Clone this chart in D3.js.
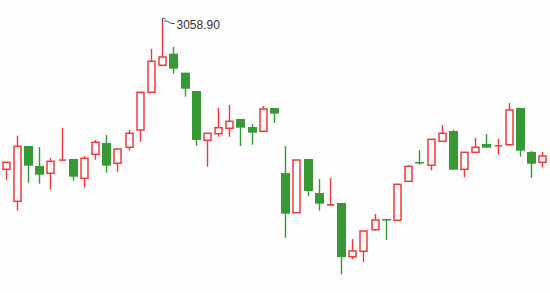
<!DOCTYPE html>
<html>
<head>
<meta charset="utf-8">
<script src="https://cdn.jsdelivr.net/npm/d3@7"></script>
<style>
  html, body { margin: 0; padding: 0; background: #fdfdfd; }
</style>
</head>
<body>
<div class="chart"></div>
<script>
// daily index candles
var openVals  = [2909.6, 2877.6, 2932.9, 2912.9, 2905.6, 2918.2, 2919.9, 2900.6, 2924.6, 2935.9,
                 2915.6, 2931.6, 2948.9, 2986.6, 3013.6, 3025.2, 3006.2, 2987.9, 2938.6, 2945.2,
                 2950.6, 2959.9, 2951.9, 2947.6, 2970.9, 2905.9, 2866.2, 2919.9, 2885.9, 2873.2,
                 2875.9, 2822.2, 2827.6, 2849.2, 2859.9, 2858.6, 2897.6, 2916.9, 2913.6, 2937.6,
                 2947.9, 2909.6, 2926.6, 2934.9, 2933.3, 2934.2, 2970.9, 2926.9, 2916.6];
var highVals  = [2916.6, 2943.2, 2932.9, 2931.9, 2920.9, 2950.9, 2919.9, 2922.9, 2938.9, 2943.9,
                 2930.9, 2948.9, 2986.6, 3029.9, 3058.9, 3031.9, 3006.2, 2987.9, 2945.6, 2970.9,
                 2973.9, 2959.9, 2954.9, 2972.9, 2970.9, 2932.9, 2918.9, 2919.9, 2899.9, 2900.9,
                 2875.9, 2839.9, 2847.9, 2864.9, 2859.9, 2894.6, 2913.6, 2928.9, 2939.6, 2953.9,
                 2949.2, 2926.6, 2941.2, 2944.9, 2940.2, 2975.9, 2970.9, 2927.9, 2926.9];
var lowVals   = [2898.9, 2868.2, 2896.2, 2895.2, 2889.2, 2918.2, 2898.2, 2891.2, 2919.2, 2906.2,
                 2907.2, 2928.2, 2937.2, 2986.6, 3013.6, 3005.2, 2982.2, 2933.2, 2912.2, 2942.2,
                 2942.2, 2932.9, 2934.2, 2947.6, 2955.9, 2841.2, 2866.2, 2882.9, 2868.2, 2873.2,
                 2804.6, 2819.9, 2816.9, 2848.2, 2838.9, 2858.6, 2897.6, 2914.2, 2908.6, 2937.6,
                 2909.2, 2901.6, 2926.6, 2931.2, 2924.2, 2933.2, 2922.2, 2901.2, 2911.6];
var closeVals = [2916.6, 2932.6, 2913.2, 2904.2, 2917.6, 2919.6, 2902.2, 2920.6, 2936.6, 2913.2,
                 2929.9, 2945.6, 2986.6, 3017.6, 3021.9, 3010.2, 2990.2, 2938.9, 2945.6, 2951.2,
                 2957.6, 2951.2, 2946.2, 2969.9, 2965.2, 2865.2, 2918.9, 2887.9, 2875.2, 2874.9,
                 2821.9, 2827.9, 2847.9, 2858.9, 2859.3, 2894.6, 2912.6, 2916.3, 2939.6, 2945.6,
                 2909.2, 2926.6, 2931.6, 2931.2, 2933.9, 2968.9, 2928.2, 2915.2, 2922.9];
var maxLabel = '3058.90';

(function() {
  var opts = {
    width: 550,
    height: 293,
    up: '#f03a3a',
    down: '#369936',
    bg: '#fdfdfd'
  };

  var candles = openVals.map(function(o, i) {
    return { i: i, open: o, high: highVals[i], low: lowVals[i], close: closeVals[i] };
  });

  var svg = d3.select('.chart')
              .append('svg')
              .attr('width', opts.width)
              .attr('height', opts.height)
              .style('display', 'block');

  var x = d3.scaleBand()
            .domain(candles.map(function(d) { return d.i; }))
            .range([0, 548]);

  var y = d3.scaleLinear()
            .domain([d3.min(lowVals), d3.max(highVals)])
            .range([274.3, 20]);

  var cx = function(d) { return Math.round(x(d.i) + x.bandwidth() / 2) + 0.5; };
  var isUp = function(d) { return d.close >= d.open; };

  var g = svg.selectAll('.candle').data(candles)
             .enter().append('g')
             .attr('class', 'candle');

  // wicks
  g.append('line')
    .attr('x1', cx)
    .attr('x2', cx)
    .attr('y1', function(d) { return y(d.high); })
    .attr('y2', function(d) { return y(d.low); })
    .style('stroke', function(d) { return isUp(d) ? opts.up : opts.down; })
    .style('stroke-width', 1.4);

  // bodies
  g.append('rect')
    .attr('x', function(d) { return isUp(d) ? cx(d) - 3.5 : cx(d) - 4.5; })
    .attr('width', function(d) { return isUp(d) ? 7 : 9; })
    .attr('y', function(d) { return y(Math.max(d.open, d.close)); })
    .attr('height', function(d) {
      return Math.max(1.5, Math.abs(y(d.open) - y(d.close)));
    })
    .style('fill', function(d) {
      var h = Math.abs(y(d.open) - y(d.close));
      if (!isUp(d)) return opts.down;
      return h < 2 ? opts.up : opts.bg;
    })
    .style('stroke', function(d) { return isUp(d) ? opts.up : 'none'; })
    .style('stroke-width', function(d) {
      var h = Math.abs(y(d.open) - y(d.close));
      return isUp(d) && h >= 2 ? 1.5 : 0;
    });

  // marker on the highest high
  var top = candles[d3.maxIndex(highVals)];
  var mx = cx(top), my = y(top.high);

  svg.append('path')
    .attr('d', 'M' + mx + ',' + (my + 2) + ' L' + mx + ',' + (my - 1.5) +
               ' Q' + (mx + 1.5) + ',' + (my - 2.5) + ' ' + (mx + 3) + ',' + (my - 0.5) +
               ' M' + (mx + 2) + ',' + (my + 1) +
               ' Q' + (mx + 5) + ',' + (my + 0.5) + ' ' + (mx + 7) + ',' + (my + 2.5) +
               ' Q' + (mx + 9) + ',' + (my + 4) + ' ' + (mx + 12) + ',' + (my + 3.5))
    .style('fill', 'none')
    .style('stroke', '#444')
    .style('stroke-width', 1);

  svg.append('text')
    .attr('x', mx + 14)
    .attr('y', my + 9)
    .text(maxLabel)
    .style('font-family', 'Liberation Sans, Arial, sans-serif')
    .style('font-size', '12px')
    .style('fill', '#333');

}).call(this);
</script>
</body>
</html>
